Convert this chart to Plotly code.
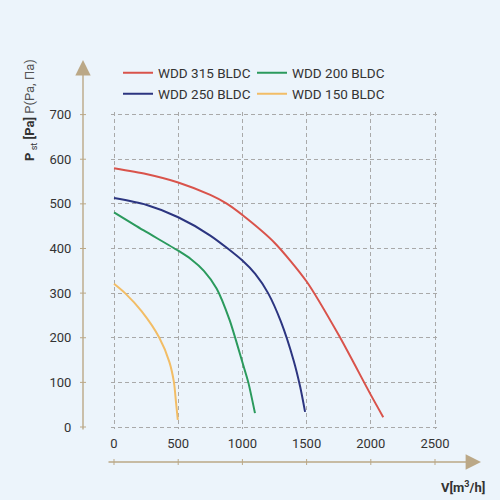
import plotly.graph_objects as go

# ---- data ----
names = ["WDD 315 BLDC", "WDD 250 BLDC", "WDD 200 BLDC", "WDD 150 BLDC"]
x315 = [0, 250, 500, 750, 875, 1000, 1250, 1500, 1750, 2000, 2097]
y315 = [580, 567, 548, 520, 501, 475, 413, 326, 206, 72, 22]
x250 = [0, 250, 500, 750, 1000, 1100, 1200, 1300, 1400, 1450, 1488]
y250 = [513, 498, 470, 429, 373, 343, 300, 236, 148, 90, 34]
x200 = [0, 228, 500, 600, 700, 800, 900, 1000, 1046, 1098]
y200 = [481, 441, 395, 376, 350, 310, 240, 145, 100, 31]
x150 = [0, 86, 216, 353, 431, 467, 483, 497]
y150 = [321, 300, 259, 200, 146, 100, 55, 16]
xticks = [0, 500, 1000, 1500, 2000, 2500]
yticks = [0, 100, 200, 300, 400, 500, 600, 700]

colors = ["#d9534b", "#2c3580", "#2b9a5d", "#f2bd66"]
FONT = "Roboto, sans-serif"
BG = "#ecf4fb"
AXC = "#bba887"

W, H = 500, 500
L, R, T, B = 83, 20, 60, 38
pw, ph = W - L - R, H - T - B

def px_x(p):
    return (p - L) / pw

def px_y(p):
    return (H - B - p) / ph

fig = go.Figure()
series = [(x315, y315), (x250, y250), (x200, y200), (x150, y150)]
legend_ids = ["legend", "legend2", "legend3", "legend4"]
legend_pos = [(118, 73), (118, 94), (252, 73), (252, 94)]
for (xs, ys), nm, c, lg in zip(series, names, colors, legend_ids):
    fig.add_trace(go.Scatter(x=xs, y=ys, mode="lines", name=nm,
                             line=dict(color=c, width=2, shape="spline", smoothing=0.7),
                             legend=lg, hoverinfo="skip"))

grid = dict(showgrid=True, gridcolor="#a9a9a9", griddash="4px,3px", gridwidth=1,
            zeroline=False, showline=False)

layout_legends = {}
for lg, (lx, ly) in zip(legend_ids, legend_pos):
    layout_legends[lg] = dict(x=px_x(lx), y=px_y(ly), xanchor="left", yanchor="middle",
                              bgcolor="rgba(0,0,0,0)", itemwidth=30,
                              font=dict(size=13.5, color="#333333"))

# slightly padded ranges so the edge grid lines (0 / 2500, 0 / 700) are drawn
xpad, ypad = 20, 5
sx = 64.2 / 500.0
sy = 44.7 / 100.0

fig.update_layout(
    width=W, height=H,
    margin=dict(l=L, r=R, t=T, b=B, autoexpand=False),
    paper_bgcolor=BG, plot_bgcolor=BG,
    font=dict(family=FONT, size=13, color="#333333"),
    xaxis=dict(domain=[px_x(114 - xpad * sx), px_x(435 + xpad * sx)],
               range=[-xpad, 2500 + xpad], tickvals=xticks,
               anchor="free", position=0, side="top", ticks="",
               ticklabelstandoff=11, **grid),
    yaxis=dict(domain=[px_y(427 + ypad * sy), px_y(114.6 - ypad * sy)],
               range=[-ypad, 700 + ypad], tickvals=yticks,
               ticks="", ticklabelstandoff=39, **grid),
    showlegend=True,
    **layout_legends,
)

# axis lines with arrows
fig.add_annotation(x=0, y=px_y(60), xref="paper", yref="paper", ax=0, ay=371,
                   axref="pixel", ayref="pixel", text="", showarrow=True,
                   arrowhead=2, arrowsize=2.2, arrowwidth=1.4, arrowcolor=AXC)
fig.add_annotation(x=px_x(481), y=0, xref="paper", yref="paper", ax=-374, ay=0,
                   text="", showarrow=True,
                   arrowhead=2, arrowsize=2.2, arrowwidth=1.4, arrowcolor=AXC)
# tick marks on the axis lines
for v in xticks:
    fig.add_shape(type="line", xref="x", yref="paper", x0=v, x1=v,
                  y0=px_y(459), y1=px_y(465), line=dict(color=AXC, width=1))
for v in yticks:
    fig.add_shape(type="line", xref="paper", yref="y", x0=px_x(80), x1=px_x(86),
                  y0=v, y1=v, line=dict(color=AXC, width=1))

# titles
fig.add_annotation(x=px_x(30), y=px_y(110), xref="paper", yref="paper",
                   xanchor="center", yanchor="middle",
                   text="<b>P</b><sub> st</sub> <b>[Pa]</b> <span style='color:#555'>P(Pa, Па)</span>",
                   textangle=-90, showarrow=False, font=dict(size=13, color="#333333"))
fig.add_annotation(x=px_x(463), y=px_y(487), xref="paper", yref="paper",
                   xanchor="center", yanchor="middle",
                   text="<b>V[m<sup>3</sup>/h]</b>", showarrow=False,
                   font=dict(size=13, color="#333333"))

fig.write_html("out.html", config={"displayModeBar": False},
               post_script="document.body.style.margin='0';")
